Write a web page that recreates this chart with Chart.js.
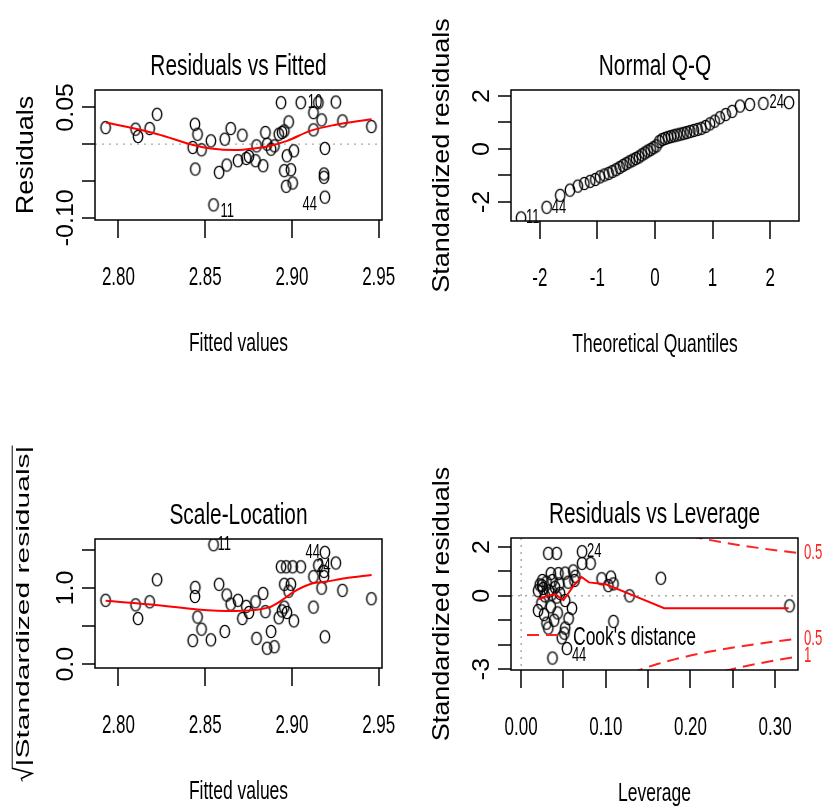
<!DOCTYPE html>
<html lang="en">
<head>
<meta charset="UTF-8">
<title>lm diagnostics</title>
<script src="https://cdn.jsdelivr.net/npm/chart.js"></script>
<style>
  html, body { margin: 0; padding: 0; background: #fff; }
  #wrap { position: relative; width: 822px; height: 810px; overflow: hidden; }
  #wrap canvas { position: absolute; }
</style>
</head>
<body>
<div id="wrap">
  <canvas id="rvf" width="411" height="405" style="left:0;top:0;width:411px;height:405px"></canvas>
  <canvas id="qq" width="411" height="405" style="left:411px;top:0;width:411px;height:405px"></canvas>
  <canvas id="sl" width="411" height="405" style="left:0;top:405px;width:411px;height:405px"></canvas>
  <canvas id="rvl" width="411" height="405" style="left:411px;top:405px;width:411px;height:405px"></canvas>
</div>
<script>
// ---- data ----
const fittedVals = [2.7926, 2.8099, 2.8113, 2.8180, 2.8223, 2.8441, 2.8456, 2.8428, 2.8479, 2.8443,
  2.8533, 2.8548, 2.8580, 2.8624, 2.8613, 2.8647, 2.8714, 2.8689, 2.8737, 2.8752,
  2.8790, 2.8796, 2.8834, 2.8847, 2.8857, 2.8880, 2.8899, 2.8924, 2.8943, 2.8956,
  2.8981, 2.8937, 2.8971, 2.8956, 2.8994, 2.8967, 2.9004, 2.9011, 2.9051, 2.9124,
  2.9124, 2.9152, 2.9171, 2.9190, 2.9185, 2.9185, 2.9190, 2.9253, 2.9291, 2.9458];
const residualVals = [0.0225, 0.0203, 0.0104, 0.0212, 0.0405, 0.0270, 0.0135, -0.0045, -0.0077, -0.0338,
  0.0045, -0.0824, -0.0383, -0.0284, 0.0068, 0.0212, 0.0122, -0.0225, -0.0194, -0.0167,
  -0.0225, -0.0023, -0.0293, 0.0158, 0.0000, -0.0068, -0.0023, 0.0135, 0.0158, 0.0180,
  0.0302, 0.0563, -0.0158, -0.0360, -0.0347, -0.0572, -0.0527, -0.0090, 0.0563, 0.0428,
  0.0194, 0.0563, 0.0329, -0.0058, -0.0405, -0.0450, -0.0720, 0.0572, 0.0315, 0.0239];
const sqrtStdRes = [0.84, 0.78, 0.60, 0.82, 1.11, 0.89, 0.62, 0.31, 0.46, 1.01,
  0.32, 1.57, 1.05, 0.91, 0.43, 0.79, 0.60, 0.84, 0.76, 0.68,
  0.82, 0.34, 0.93, 0.69, 0.21, 0.43, 0.23, 0.61, 0.70, 0.75,
  0.96, 1.28, 0.68, 1.05, 1.05, 1.28, 1.28, 0.57, 1.28, 1.15,
  0.75, 1.30, 1.00, 0.36, 1.15, 1.22, 1.47, 1.33, 0.97, 0.86];

const rvfSmoothX = [2.7927, 2.8093, 2.8227, 2.8437, 2.8533, 2.8666, 2.8743, 2.8857, 2.8972, 2.9105, 2.9239, 2.9459];
const rvfSmoothY = [0.0293, 0.0212, 0.0135, -0.0014, -0.0058, -0.0081, -0.0068, -0.0031, 0.0045, 0.0180, 0.0257, 0.0338];
const slSmoothX = [2.7926, 2.8227, 2.8456, 2.8676, 2.8867, 2.8943, 2.9010, 2.9115, 2.9191, 2.9306, 2.9459];
const slSmoothY = [0.833, 0.776, 0.720, 0.700, 0.746, 0.842, 0.950, 1.060, 1.083, 1.128, 1.171];

const qqTheo = [-2.326, -1.881, -1.645, -1.476, -1.341, -1.227, -1.126, -1.036, -0.954, -0.878,
  -0.806, -0.739, -0.674, -0.613, -0.553, -0.496, -0.440, -0.385, -0.332, -0.279,
  -0.228, -0.176, -0.126, -0.075, -0.025, 0.025, 0.075, 0.126, 0.176, 0.228,
  0.279, 0.332, 0.385, 0.440, 0.496, 0.553, 0.613, 0.674, 0.739, 0.806,
  0.878, 0.954, 1.036, 1.126, 1.227, 1.341, 1.476, 1.645, 1.881, 2.326];
const qqStdRes = [-2.60, -2.20, -1.75, -1.55, -1.40, -1.30, -1.22, -1.15, -1.05, -0.98,
  -0.92, -0.85, -0.78, -0.70, -0.62, -0.55, -0.48, -0.42, -0.36, -0.30,
  -0.22, -0.15, -0.08, -0.02, 0.05, 0.12, 0.28, 0.36, 0.40, 0.44,
  0.47, 0.50, 0.53, 0.56, 0.59, 0.62, 0.66, 0.70, 0.74, 0.78,
  0.85, 0.95, 1.05, 1.18, 1.30, 1.42, 1.62, 1.68, 1.72, 1.75];

const leverageVals = [0.032, 0.042, 0.072, 0.072, 0.082, 0.0615, 0.052, 0.044, 0.035, 0.025,
  0.0245, 0.030, 0.037, 0.045, 0.0556, 0.063, 0.020, 0.028, 0.036, 0.042,
  0.052, 0.020, 0.027, 0.030, 0.032, 0.060, 0.056, 0.052, 0.048, 0.051,
  0.054, 0.037, 0.095, 0.106, 0.103, 0.109, 0.128, 0.109, 0.165, 0.317,
  0.022, 0.026, 0.033, 0.040, 0.046, 0.024, 0.035, 0.043, 0.064, 0.039];
const levStdRes = [1.74, 1.74, 1.81, 1.33, 1.33, 1.02, 0.93, 0.91, 0.91, 0.63,
  0.42, 0.56, 0.63, 0.49, 0.56, 0.63, 0.21, 0.00, 0.07, -0.05,
  -0.19, -0.60, -0.77, -1.12, -1.32, -0.51, -0.93, -1.32, -1.72, -1.53,
  -2.16, -2.55, 0.70, 0.77, 0.42, 0.49, 0.00, -1.05, 0.72, -0.41,
  0.45, 0.30, 0.20, 0.35, 0.10, -0.30, -0.45, -0.70, 0.80, -1.00];
const levSmoothX = [0.020, 0.030, 0.040, 0.050, 0.062, 0.0714, 0.080, 0.100, 0.130, 0.169, 0.316];
const levSmoothY = [-0.14, -0.02, 0.07, -0.18, 0.42, 0.77, 0.55, 0.47, 0.05, -0.51, -0.51];

const cookHalfUpX = [0.20, 0.22, 0.24, 0.26, 0.28, 0.30, 0.32, 0.33];
const cookHalfUpY = [2.449, 2.306, 2.179, 2.066, 1.964, 1.871, 1.785, 1.745];
const cookHalfLoX = [0.13, 0.14, 0.16, 0.18, 0.20, 0.22, 0.24, 0.26, 0.28, 0.30, 0.32, 0.33];
const cookHalfLoY = [-3.17, -3.035, -2.806, -2.614, -2.449, -2.306, -2.179, -2.066, -1.964, -1.871, -1.785, -1.745];
const cookOneLoX = [0.24, 0.26, 0.28, 0.30, 0.32, 0.33];
const cookOneLoY = [-3.081, -2.922, -2.777, -2.646, -2.525, -2.468];
const cookLabelY = [1.76, -1.76, -2.48];
const cookLabelText = ['0.5', '0.5', '1'];

const fitTicks = [2.80, 2.85, 2.90, 2.95];
const fitTickText = ['2.80', '2.85', '2.90', '2.95'];
const resTicks = [-0.10, -0.05, 0, 0.05];
const resTickText = ['-0.10', '', '', '0.05'];
const qqXTicks = [-2, -1, 0, 1, 2];
const qqXTickText = ['-2', '-1', '0', '1', '2'];
const qqYTicks = [-2, -1, 0, 1, 2];
const qqYTickText = ['-2', '', '0', '', '2'];
const slYTicks = [0, 0.5, 1.0, 1.5];
const slYTickText = ['0.0', '', '1.0', ''];
const levXTicks = [0, 0.05, 0.10, 0.15, 0.20, 0.25, 0.30];
const levXTickText = ['0.00', '', '0.10', '', '0.20', '', '0.30'];
const levYTicks = [-3, -2, -1, 0, 1, 2];
const levYTickText = ['-3', '', '', '0', '', '2'];

// ---- drawing helpers ----
const FONT = '"Liberation Sans", Arial, Helvetica, sans-serif';

// R's circles come out slightly tall in this picture, so use an ellipse image
const ring = (function () {
  const c = document.createElement('canvas');
  c.width = 14; c.height = 17;
  const g = c.getContext('2d');
  g.strokeStyle = '#000';
  g.lineWidth = 1.4;
  g.beginPath();
  g.ellipse(7, 8.5, 4.7, 6.1, 0, 0, Math.PI * 2);
  g.stroke();
  return c;
})();

function say(ctx, s, x, y, size, o) {
  o = o || {};
  ctx.save();
  ctx.translate(x, y);
  if (o.up) ctx.rotate(-Math.PI / 2);
  ctx.scale(o.sx || 1, o.sy || 1);
  ctx.font = size + 'px ' + FONT;
  ctx.fillStyle = o.color || '#000';
  ctx.textAlign = o.align || 'center';
  ctx.textBaseline = o.base || 'alphabetic';
  ctx.fillText(s, 0, 0);
  ctx.restore();
}

const pts = (xs, ys) => xs.map((v, i) => ({ x: v, y: ys[i] }));

function scatterSet(xs, ys) {
  return { data: pts(xs, ys), pointStyle: ring, pointRadius: 6, showLine: false, order: 3 };
}
function smoothSet(xs, ys, curved) {
  return { data: pts(xs, ys), showLine: true, borderColor: '#f00', borderWidth: 2,
    pointRadius: 0, cubicInterpolationMode: curved ? 'monotone' : 'default', tension: 0, order: 1 };
}
function cookSet(xs, ys) {
  return { data: pts(xs, ys), showLine: true, borderColor: '#f22', borderWidth: 2,
    borderDash: [12, 7], pointRadius: 0, cubicInterpolationMode: 'monotone', order: 2 };
}

function frame(p) {
  return {
    id: 'rframe',
    beforeDatasetsDraw(chart) {
      const { ctx, chartArea: a, scales: { x, y } } = chart;
      ctx.save();
      ctx.strokeStyle = '#a8a8a8';
      ctx.lineWidth = 1.4;
      ctx.setLineDash([2, 5]);
      (p.hRef || []).forEach(v => {
        const py = y.getPixelForValue(v);
        ctx.beginPath(); ctx.moveTo(a.left, py); ctx.lineTo(a.right, py); ctx.stroke();
      });
      (p.vRef || []).forEach(v => {
        const px = x.getPixelForValue(v);
        ctx.beginPath(); ctx.moveTo(px, a.top); ctx.lineTo(px, a.bottom); ctx.stroke();
      });
      ctx.restore();
    },
    afterDraw(chart) {
      const { ctx, chartArea: a, scales: { x, y } } = chart;
      ctx.save();
      ctx.strokeStyle = '#000';
      ctx.lineWidth = 1.5;
      ctx.strokeRect(a.left, a.top, a.right - a.left, a.bottom - a.top);
      ctx.beginPath();
      p.xTicks.forEach(v => {
        const px = Math.round(x.getPixelForValue(v));
        ctx.moveTo(px, a.bottom); ctx.lineTo(px, a.bottom + 18);
      });
      p.yTicks.forEach(v => {
        const py = Math.round(y.getPixelForValue(v));
        ctx.moveTo(a.left, py); ctx.lineTo(a.left - 13, py);
      });
      ctx.stroke();

      p.xTicks.forEach((v, i) => {
        if (p.xTickText[i]) say(ctx, p.xTickText[i], x.getPixelForValue(v), a.bottom + 65, 25, { sx: 0.68 });
      });
      p.yTicks.forEach((v, i) => {
        if (p.yTickText[i]) say(ctx, p.yTickText[i], a.left - 22, y.getPixelForValue(v), 25, { up: true, sy: 0.92 });
      });

      const cx = (a.left + a.right) / 2, cy = (a.top + a.bottom) / 2;
      say(ctx, p.title, cx, a.top - 15, 29, { sx: 0.72 });
      say(ctx, p.xTitle, cx, a.bottom + 131, 25, { sx: 0.7 });
      if (p.drawYTitle) p.drawYTitle(ctx, a.left - 66, cy);
      else say(ctx, p.yTitle, a.left - 62, cy, 27, { up: true, sy: 0.88 });

      (p.ids || []).forEach(d => {
        const pt = chart.data.datasets[0].data[d.i];
        say(ctx, d.text, x.getPixelForValue(pt.x) + d.dx, y.getPixelForValue(pt.y) + d.dy, 20,
          { sx: 0.65, align: d.dx < 0 ? 'right' : 'left', base: 'middle' });
      });
      if (p.extra) p.extra(ctx, a, x, y);
      ctx.restore();
    }
  };
}

function panel(id, p) {
  return new Chart(document.getElementById(id), {
    type: 'scatter',
    data: { datasets: p.datasets },
    options: {
      responsive: false,
      animation: false,
      devicePixelRatio: 1,
      events: [],
      layout: { padding: p.pad },
      plugins: { legend: { display: false }, tooltip: { enabled: false } },
      scales: {
        x: { type: 'linear', display: false, min: p.xr[0], max: p.xr[1] },
        y: { type: 'linear', display: false, min: p.yr[0], max: p.yr[1] }
      }
    },
    plugins: [frame(p)]
  });
}

// ---- the four panels ----
panel('rvf', {
  pad: { left: 95, top: 90, right: 29, bottom: 185 },
  xr: [2.7865, 2.9519], yr: [-0.103, 0.0735],
  datasets: [scatterSet(fittedVals, residualVals), smoothSet(rvfSmoothX, rvfSmoothY, true)],
  xTicks: fitTicks, xTickText: fitTickText, yTicks: resTicks, yTickText: resTickText,
  title: 'Residuals vs Fitted', xTitle: 'Fitted values', yTitle: 'Residuals',
  hRef: [0],
  ids: [{ i: 11, text: '11', dx: 7, dy: 7 }, { i: 46, text: '44', dx: -8, dy: 7 }, { i: 38, text: '10', dx: 7, dy: 0 }]
});

panel('qq', {
  pad: { left: 100, top: 90, right: 23, bottom: 184 },
  xr: [-2.5, 2.5], yr: [-2.717, 2.226],
  datasets: [scatterSet(qqTheo, qqStdRes)],
  xTicks: qqXTicks, xTickText: qqXTickText, yTicks: qqYTicks, yTickText: qqYTickText,
  title: 'Normal Q-Q', xTitle: 'Theoretical Quantiles', yTitle: 'Standardized residuals',
  ids: [{ i: 0, text: '11', dx: 5, dy: 0 }, { i: 1, text: '44', dx: 5, dy: 0 }, { i: 49, text: '24', dx: -5, dy: 0 }]
});

panel('sl', {
  pad: { left: 95, top: 134, right: 29, bottom: 142 },
  xr: [2.7865, 2.9519], yr: [-0.05, 1.645],
  datasets: [scatterSet(fittedVals, sqrtStdRes), smoothSet(slSmoothX, slSmoothY, true)],
  xTicks: fitTicks, xTickText: fitTickText, yTicks: slYTicks, yTickText: slYTickText,
  title: 'Scale-Location', xTitle: 'Fitted values',
  drawYTitle(ctx, bx, cy) {
    ctx.save();
    ctx.translate(bx, cy);
    ctx.rotate(-Math.PI / 2);
    ctx.scale(1, 0.6);
    ctx.font = '30px ' + FONT;
    ctx.fillStyle = '#000';
    ctx.textAlign = 'left';
    ctx.textBaseline = 'alphabetic';
    const s = '|Standardized residuals|';
    const w = ctx.measureText(s).width;
    const rw = 15;
    const x0 = -(w + rw) / 2 - 10;
    ctx.fillText(s, x0 + rw, 0);
    ctx.strokeStyle = '#000';
    ctx.lineWidth = 1.6;
    ctx.beginPath();
    ctx.moveTo(x0, -11); ctx.lineTo(x0 + 3, -13);
    ctx.lineTo(x0 + 8, 5); ctx.lineTo(x0 + 13, -28);
    ctx.lineTo(x0 + rw + w, -28);
    ctx.stroke();
    ctx.restore();
  },
  ids: [{ i: 11, text: '11', dx: 4, dy: 0 }, { i: 46, text: '44', dx: -5, dy: 0 }, { i: 47, text: '24', dx: -5, dy: 4 }]
});

panel('rvl', {
  pad: { left: 100, top: 133, right: 24, bottom: 140 },
  xr: [-0.012, 0.327], yr: [-3.04, 2.369],
  datasets: [scatterSet(leverageVals, levStdRes), smoothSet(levSmoothX, levSmoothY, false),
    cookSet(cookHalfUpX, cookHalfUpY), cookSet(cookHalfLoX, cookHalfLoY), cookSet(cookOneLoX, cookOneLoY)],
  xTicks: levXTicks, xTickText: levXTickText, yTicks: levYTicks, yTickText: levYTickText,
  title: 'Residuals vs Leverage', xTitle: 'Leverage', yTitle: 'Standardized residuals',
  hRef: [0], vRef: [0],
  ids: [{ i: 2, text: '24', dx: 5, dy: 0 }, { i: 30, text: '44', dx: 5, dy: 7 }],
  extra(ctx, a, x, y) {
    ctx.strokeStyle = '#f22';
    ctx.lineWidth = 2;
    ctx.setLineDash([12, 7]);
    ctx.beginPath();
    ctx.moveTo(a.left + 16, a.bottom - 35);
    ctx.lineTo(a.left + 49, a.bottom - 35);
    ctx.stroke();
    ctx.setLineDash([]);
    say(ctx, "Cook's distance", a.left + 62, a.bottom - 25, 25, { sx: 0.7, align: 'left' });
    cookLabelY.forEach((v, i) => {
      say(ctx, cookLabelText[i], a.right + 6, y.getPixelForValue(v), 22,
        { sx: 0.6, align: 'left', base: 'middle', color: '#f22' });
    });
  }
});
</script>
</body>
</html>
